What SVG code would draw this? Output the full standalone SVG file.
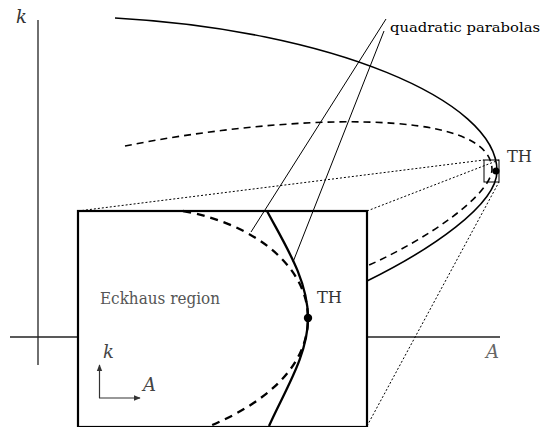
<svg xmlns="http://www.w3.org/2000/svg" width="547" height="427" viewBox="0 0 547 427">
<style>
.ax{stroke:#222;stroke-width:1.3;fill:none}
.sol{stroke:#000;stroke-width:1.6;fill:none}
.dsh{stroke:#000;stroke-width:1.6;fill:none;stroke-dasharray:7,5}
.tsol{stroke:#000;stroke-width:2.3;fill:none}
.tdsh{stroke:#000;stroke-width:2.3;fill:none;stroke-dasharray:8,6}
.lead{stroke:#000;stroke-width:1;fill:none}
.dot{stroke:#000;stroke-width:1;fill:none;stroke-dasharray:2,2}
text{font-family:'DejaVu Serif','Liberation Serif',serif;font-size:17px}
.it{font-style:italic;font-size:18px}
.lab{font-size:13.5px}
</style>
<defs>
<marker id="ah" viewBox="0 0 10 10" refX="9" refY="5" markerWidth="7" markerHeight="7" orient="auto" markerUnits="userSpaceOnUse">
<path d="M0,1 L10,5 L0,9 Z" fill="#333"/>
</marker>
</defs>
<rect width="547" height="427" fill="#fff"/>
<g id="axes">
<line class="ax" x1="38" y1="20" x2="38" y2="365"/>
<line class="ax" x1="10" y1="337" x2="500" y2="337"/>
<text class="it" x="16" y="23" fill="#333">k</text>
<text class="it" x="486" y="358" fill="#666">A</text>
</g>
<g id="connectors">
<path class="sol" d="M115,18 C330,30 497,100 497,171 C497,205 430,250 367,281"/>
<path class="dsh" d="M125,146 C280,115 492,105 492,170 C490,195 430,238 367,266"/>
<line class="dot" x1="78" y1="211" x2="484" y2="160"/>
<line class="dot" x1="367" y1="211" x2="499" y2="160"/>
<line class="dot" x1="367" y1="426" x2="499" y2="182"/>
</g>
<g id="small-box">
<rect x="484" y="160" width="15" height="22" fill="none" stroke="#000" stroke-width="1"/>
<circle cx="496" cy="171" r="3.5" fill="#000"/>
<text x="507" y="162" fill="#333" textLength="25" lengthAdjust="spacingAndGlyphs">TH</text>
</g>
<g id="inset">
<rect x="78" y="211" width="289" height="216" fill="#fff" stroke="#000" stroke-width="2.2"/>
<path class="tdsh" d="M183,211 C260,225 308,270 308,318 C308,370 260,405 210,426"/>
<path class="tsol" d="M267,211 C285,245 308,280 308,318 C308,355 285,390 269,426"/>
<circle cx="308" cy="318" r="4.2" fill="#000"/>
<text x="317" y="303" fill="#333" textLength="25" lengthAdjust="spacingAndGlyphs">TH</text>
<text x="100" y="304" fill="#555" textLength="120" lengthAdjust="spacingAndGlyphs">Eckhaus region</text>
<line x1="99.5" y1="398" x2="99.5" y2="365" stroke="#333" stroke-width="1.2" marker-end="url(#ah)"/>
<line x1="99" y1="398" x2="140" y2="398" stroke="#333" stroke-width="1.2" marker-end="url(#ah)"/>
<text class="it" x="103" y="358" fill="#444">k</text>
<text class="it" x="143" y="391" fill="#444">A</text>
</g>
<g id="label">
<line class="lead" x1="386" y1="19" x2="251" y2="232"/>
<line class="lead" x1="384" y1="31" x2="293" y2="262"/>
<text class="lab" x="390" y="32" textLength="150" lengthAdjust="spacingAndGlyphs">quadratic parabolas</text>
</g>
</svg>
